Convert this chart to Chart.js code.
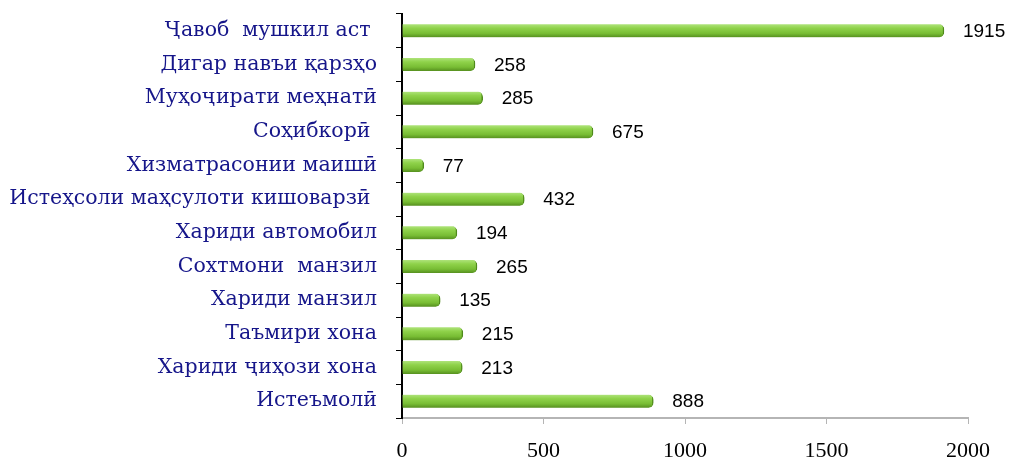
<!DOCTYPE html>
<html>
<head>
<meta charset="utf-8">
<script src="https://cdn.jsdelivr.net/npm/chart.js@4"></script>
<style>
  html, body { margin: 0; padding: 0; background: #fff; }
  #wrap { width: 1025px; height: 464px; }
</style>
</head>
<body>
<div id="wrap"><canvas id="myChart" width="1025" height="464"></canvas></div>
<script>
const categories = [
    'Ҷавоб  мушкил аст ',
    'Дигар навъи қарзҳо',
    'Муҳоҷирати меҳнатӣ',
    'Соҳибкорӣ ',
    'Хизматрасонии маишӣ',
    'Истеҳсоли маҳсулоти кишоварзӣ ',
    'Хариди автомобил',
    'Сохтмони  манзил',
    'Хариди манзил',
    'Таъмири хона',
    'Хариди ҷиҳози хона',
    'Истеъмолӣ'
];
const counts = [1915, 258, 285, 675, 77, 432, 194, 265, 135, 215, 213, 888];
const xTicks = [0, 500, 1000, 1500, 2000];

// cylinder-like shading for each bar + value labels
const shadePlugin = {
    id: 'shade',
    beforeDatasetsDraw(chart) {
        const c = chart.ctx;
        chart.getDatasetMeta(0).data.forEach(function (bar) {
            const h = bar.height;
            const g = c.createLinearGradient(0, bar.y - h / 2, 0, bar.y + h / 2);
            g.addColorStop(0, '#aee37a');
            g.addColorStop(0.3, '#8fd24a');
            g.addColorStop(0.7, '#78bd34');
            g.addColorStop(1, '#56901f');
            bar.options.backgroundColor = g;
        });
    },
    afterDatasetsDraw(chart) {
        const c = chart.ctx;
        c.save();
        c.font = '19px "Liberation Sans", Arial, sans-serif';
        c.fillStyle = '#000';
        c.textBaseline = 'middle';
        c.textAlign = 'left';
        chart.getDatasetMeta(0).data.forEach(function (bar, i) {
            c.fillText(counts[i], bar.x + 19, bar.y + 1);
        });
        c.restore();
    }
};

const ctx = document.getElementById('myChart').getContext('2d');
new Chart(ctx, {
    type: 'bar',
    data: {
        labels: categories,
        datasets: [{
            data: counts,
            // scriptable so each bar gets its own options object
            backgroundColor: function () { return '#8ed14c'; },
            borderColor: '#4f8a1a',
            borderWidth: { top: 0, bottom: 0, left: 0, right: 1.5 },
            borderRadius: { topRight: 5, bottomRight: 5 },
            borderSkipped: 'start',
            barThickness: 13
        }]
    },
    plugins: [shadePlugin],
    options: {
        responsive: false,
        animation: false,
        indexAxis: 'y',
        layout: {
            padding: { top: 14, right: 57, left: 0, bottom: 0 }
        },
        plugins: {
            legend: { display: false },
            tooltip: { enabled: false }
        },
        scales: {
            x: {
                min: 0,
                max: 2000,
                afterBuildTicks: function (scale) {
                    scale.ticks = xTicks.map(v => ({ value: v }));
                },
                afterFit: function (scale) { scale.height = 46; },
                border: { color: '#b5b5b5', width: 2 },
                grid: {
                    drawOnChartArea: false,
                    color: '#b5b5b5',
                    tickLength: 6
                },
                ticks: {
                    color: '#000',
                    padding: 14,
                    callback: function (value) { return String(value); },
                    font: { family: '"Liberation Serif", "Times New Roman", serif', size: 22 }
                }
            },
            y: {
                afterFit: function (scale) {
                    scale.width = 402;
                    scale.paddingTop = 0;
                    scale.paddingBottom = 0;
                },
                border: { color: '#000', width: 2 },
                grid: {
                    drawOnChartArea: false,
                    color: '#000',
                    tickLength: 6,
                    offset: true
                },
                ticks: {
                    color: '#16168a',
                    padding: 19,
                    font: { family: '"DejaVu Serif", serif', size: 20.5 }
                }
            }
        }
    }
});
</script>
</body>
</html>
